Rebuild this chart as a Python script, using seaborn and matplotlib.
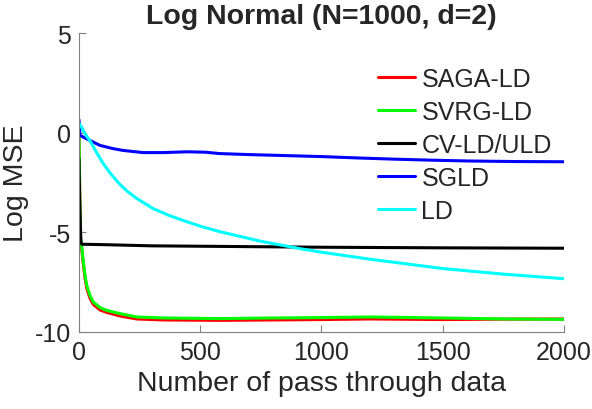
import numpy as np
import pandas as pd
import matplotlib
matplotlib.use("Agg")
import matplotlib.pyplot as plt
import seaborn as sns

methods = ["SAGA-LD", "SVRG-LD", "CV-LD/ULD", "SGLD", "LD"]
colors = ["#ff0000", "#00ff00", "#000000", "#0000ff", "#00ffff"]

saga_x = [0, 3, 6, 11, 18, 25, 32, 45, 59, 87, 114, 169, 238, 350, 581, 800, 1000, 1200, 1500, 1750, 2000]
saga_y = [0.1, -3.0, -5.3, -5.8, -6.6, -7.3, -7.8, -8.3, -8.62, -8.9, -9.02, -9.2, -9.35, -9.4, -9.42, -9.4, -9.38, -9.35, -9.38, -9.36, -9.35]

svrg_x = [0, 3, 6, 11, 18, 25, 32, 45, 59, 87, 114, 169, 238, 350, 581, 800, 1000, 1200, 1500, 1750, 2000]
svrg_y = [0.1, -3.0, -5.2, -5.65, -6.49, -7.16, -7.66, -8.16, -8.5, -8.78, -8.92, -9.08, -9.25, -9.3, -9.33, -9.3, -9.28, -9.25, -9.3, -9.35, -9.37]

cv_x = [0, 3, 8, 12, 100, 300, 500, 1000, 1500, 2000]
cv_y = [-1.3, -3.5, -5.5, -5.6, -5.62, -5.68, -5.7, -5.75, -5.78, -5.8]

sgld_x = [0, 4, 25, 45, 87, 140, 181, 264, 350, 445, 520, 581, 700, 850, 1000, 1150, 1300, 1450, 1600, 1800, 2000]
sgld_y = [0.65, -0.13, -0.27, -0.39, -0.64, -0.8, -0.89, -1.0, -1.0, -0.96, -0.98, -1.05, -1.1, -1.15, -1.2, -1.27, -1.33, -1.38, -1.42, -1.45, -1.46]

ld_x = [0, 10, 20, 30, 45, 66, 80, 100, 130, 169, 200, 238, 306, 370, 445, 510, 581, 750, 911, 1000, 1200, 1500, 1750, 2000]
ld_y = [0.45, 0.3, 0.05, -0.15, -0.4, -0.85, -1.15, -1.55, -2.05, -2.6, -2.95, -3.3, -3.81, -4.15, -4.47, -4.73, -4.97, -5.45, -5.82, -6.0, -6.35, -6.82, -7.1, -7.33]

xs = [saga_x, svrg_x, cv_x, sgld_x, ld_x]
ys = [saga_y, svrg_y, cv_y, sgld_y, ld_y]

df = pd.concat(
    [pd.DataFrame({"x": x, "y": y, "method": m}) for m, x, y in zip(methods, xs, ys)],
    ignore_index=True,
)

sns.set_style("ticks")
plt.rcParams["font.family"] = ["Liberation Sans", "DejaVu Sans"]
plt.rcParams["axes.unicode_minus"] = False

fig = plt.figure(figsize=(5.92, 4.10), dpi=100)
ax = fig.add_axes([0.1334, 0.188, 0.8193, 0.729])

sns.lineplot(data=df, x="x", y="y", hue="method", hue_order=methods,
             palette=dict(zip(methods, colors)), sort=False, estimator=None,
             linewidth=2.2, ax=ax)

ax.set_xlim(0, 2000)
ax.set_ylim(-10, 5)
ax.set_xticks([0, 500, 1000, 1500, 2000])
ax.set_yticks([-10, -5, 0, 5])
ax.set_xlabel("Number of pass through data", fontsize=20.5, color="#262626")
ax.set_ylabel("Log MSE", fontsize=20.5, color="#262626")
ax.set_title("Log Normal (N=1000, d=2)", fontsize=20.5, fontweight="bold", pad=7)

for s in ["top", "right"]:
    ax.spines[s].set_visible(False)
for s in ["left", "bottom"]:
    ax.spines[s].set_color("#808080")
    ax.spines[s].set_linewidth(0.8)
ax.tick_params(direction="in", length=5, width=0.8, color="#808080",
               labelsize=18, labelcolor="#262626", pad=6)

handles, labels = ax.get_legend_handles_labels()
ax.legend(handles, labels, loc="upper left", bbox_to_anchor=(0.638, 1 - 68 / 410),
          bbox_transform=fig.transFigure, frameon=False, fontsize=18,
          handlelength=1.5, handletextpad=0.25, labelspacing=0.36,
          borderpad=0, borderaxespad=0)

fig.savefig("out.png", dpi=100)
